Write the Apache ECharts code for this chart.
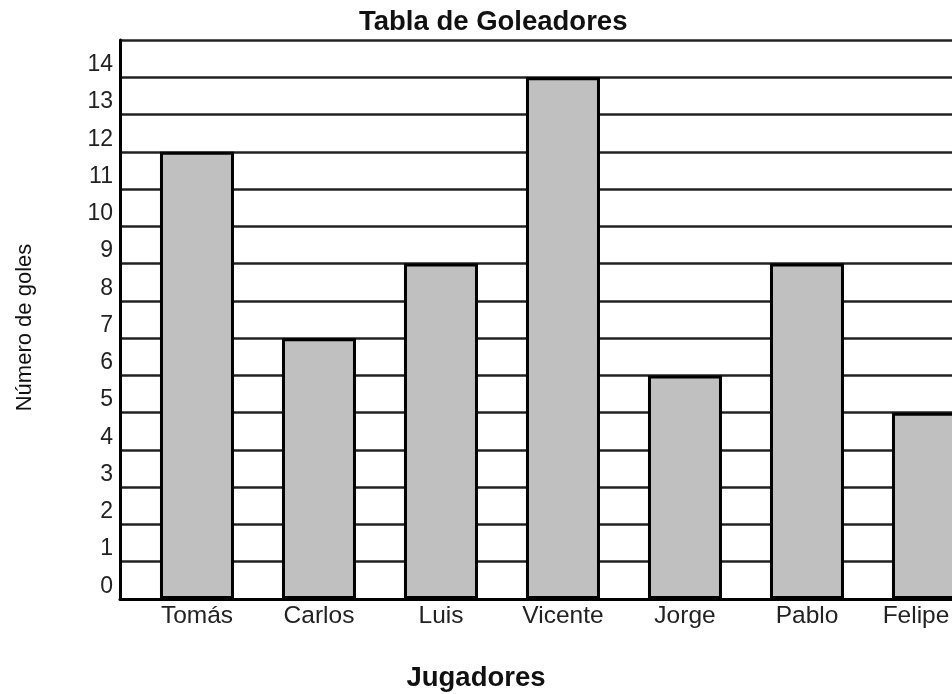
<!DOCTYPE html>
<html>
<head>
<meta charset="utf-8">
<script src="https://cdn.jsdelivr.net/npm/echarts@6/dist/echarts.min.js"></script>
<style>
html,body{margin:0;padding:0;background:#fff;}
#chart{width:952px;height:694px;}
</style>
</head>
<body>
<div id="chart"></div>
<script>
const chartTitle = 'Tabla de Goleadores';
const xAxisTitle = 'Jugadores';
const yAxisTitle = 'Número de goles';
const categories = ['Tomás', 'Carlos', 'Luis', 'Vicente', 'Jorge', 'Pablo', 'Felipe'];
const goals = [12, 7, 9, 14, 6, 9, 5];
const yTickLabels = ['0','1','2','3','4','5','6','7','8','9','10','11','12','13','14'];

const FONT = "'Liberation Sans', Arial, sans-serif";
const chart = echarts.init(document.getElementById('chart'), null, {renderer: 'canvas'});
chart.setOption({
  backgroundColor: '#fff',
  animation: false,
  title: [
    {text: chartTitle, left: 359, top: 8, padding: 0,
     textStyle: {fontFamily: FONT, fontSize: 27.5, fontWeight: 'bold', color: '#111'}},
    {text: xAxisTitle, left: 'center', top: 664, padding: 0,
     textStyle: {fontFamily: FONT, fontSize: 27.5, fontWeight: 'bold', color: '#111'}}
  ],
  grid: {left: 120, top: 40, height: 559, width: 854, containLabel: false, outerBoundsMode: 'none'},
  xAxis: {
    type: 'category',
    data: categories,
    axisLine: {show: true, lineStyle: {color: '#000', width: 3}},
    axisTick: {show: false},
    axisLabel: {
      margin: 5,
      formatter: function (v, i) {
        return (i === categories.length - 1 ? '{e|' : '{n|') + v + '}';
      },
      rich: {
        n: {fontFamily: FONT, fontSize: 24.5, color: '#222', padding: [0, 0, 0, 32]},
        e: {fontFamily: FONT, fontSize: 24.5, color: '#222', padding: [0, 0, 0, 6]}
      }
    },
    splitLine: {show: false}
  },
  yAxis: [
    {
      type: 'value', min: 0, max: 15, interval: 1,
      name: yAxisTitle, nameLocation: 'middle', nameGap: 84, nameRotate: 90,
      nameTextStyle: {fontFamily: FONT, fontSize: 22, color: '#111', padding: [0, 16, 0, 0]},
      axisLine: {show: true, lineStyle: {color: '#000', width: 3}},
      axisTick: {show: false},
      axisLabel: {show: false},
      splitLine: {show: true, lineStyle: {color: '#222', width: 2.5}}
    },
    {
      type: 'category', data: yTickLabels, position: 'left', boundaryGap: true,
      axisLine: {show: false}, axisTick: {show: false}, splitLine: {show: false},
      axisLabel: {fontFamily: FONT, fontSize: 23, color: '#222', margin: 7,
                  verticalAlign: 'top', lineHeight: 12}
    }
  ],
  series: [
    {type: 'bar', name: 'spacer', data: [], barWidth: 74, barGap: '-56.8%', yAxisIndex: 0},
    {
      type: 'bar', name: 'goles', data: goals, barWidth: 74, barGap: '-56.8%', yAxisIndex: 0,
      itemStyle: {color: '#c0c0c0', borderColor: '#000', borderWidth: 3}
    }
  ]
});
</script>
</body>
</html>
